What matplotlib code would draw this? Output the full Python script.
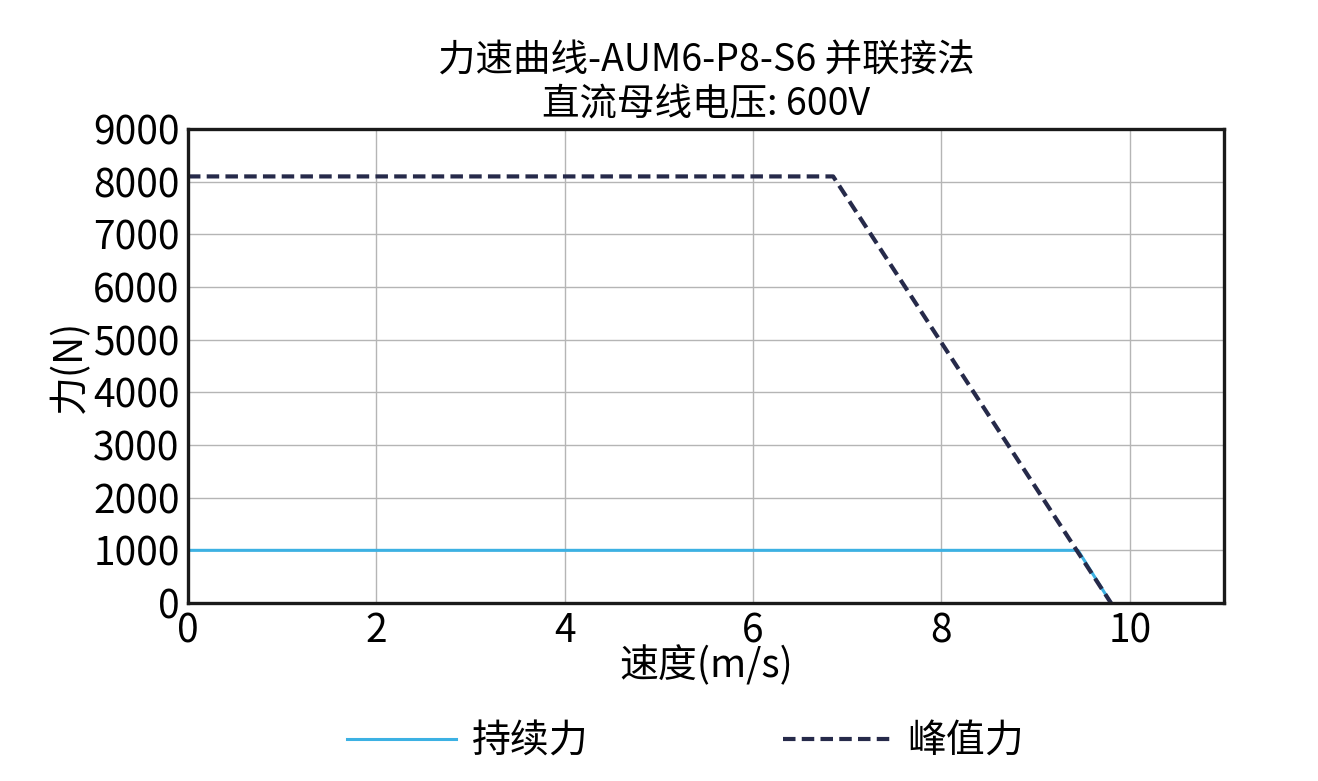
import matplotlib.pyplot as plt

plt.rcParams['font.family'] = ['Noto Sans CJK SC', 'DejaVu Sans']

# 数据
v_cont = [0, 9.45, 9.8]
f_cont = [1000, 1000, 0]
v_peak = [0, 6.85, 9.8]
f_peak = [8100, 8100, 0]

fig = plt.figure(figsize=(13.18, 7.81), dpi=100)
ax = fig.add_axes([0.1426, 0.2279, 0.7861, 0.6069])

ax.plot(v_cont, f_cont, color="#3cb1e3", lw=2.2, label="持续力")
ax.plot(v_peak, f_peak, color="#262a4a", lw=3, ls=(0, (3, 1.5)), label="峰值力")

ax.set_xlim(0, 11)
ax.set_ylim(0, 9000)
ax.set_xticks(range(0, 11, 2))
ax.set_yticks(range(0, 9001, 1000))
ax.grid(True, color="#b5b5b5", lw=1)
ax.tick_params(length=0, labelsize=28, pad=6)
for s in ax.spines.values():
    s.set_linewidth(2.4)
    s.set_color("#1a1a1a")

ax.set_xlabel("速度(m/s)", fontsize=28, labelpad=-4)
ax.set_ylabel("力(N)", fontsize=28, labelpad=2)
ax.set_title("力速曲线-AUM6-P8-S6 并联接法\n直流母线电压: 600V", fontsize=27, pad=10, linespacing=1.15)

fig.legend(loc="lower center", bbox_to_anchor=(0.52, -0.02), ncol=2, frameon=False,
           fontsize=28, handlelength=2.8, handletextpad=0.4, columnspacing=5)

fig.savefig("out.png", dpi=100)
